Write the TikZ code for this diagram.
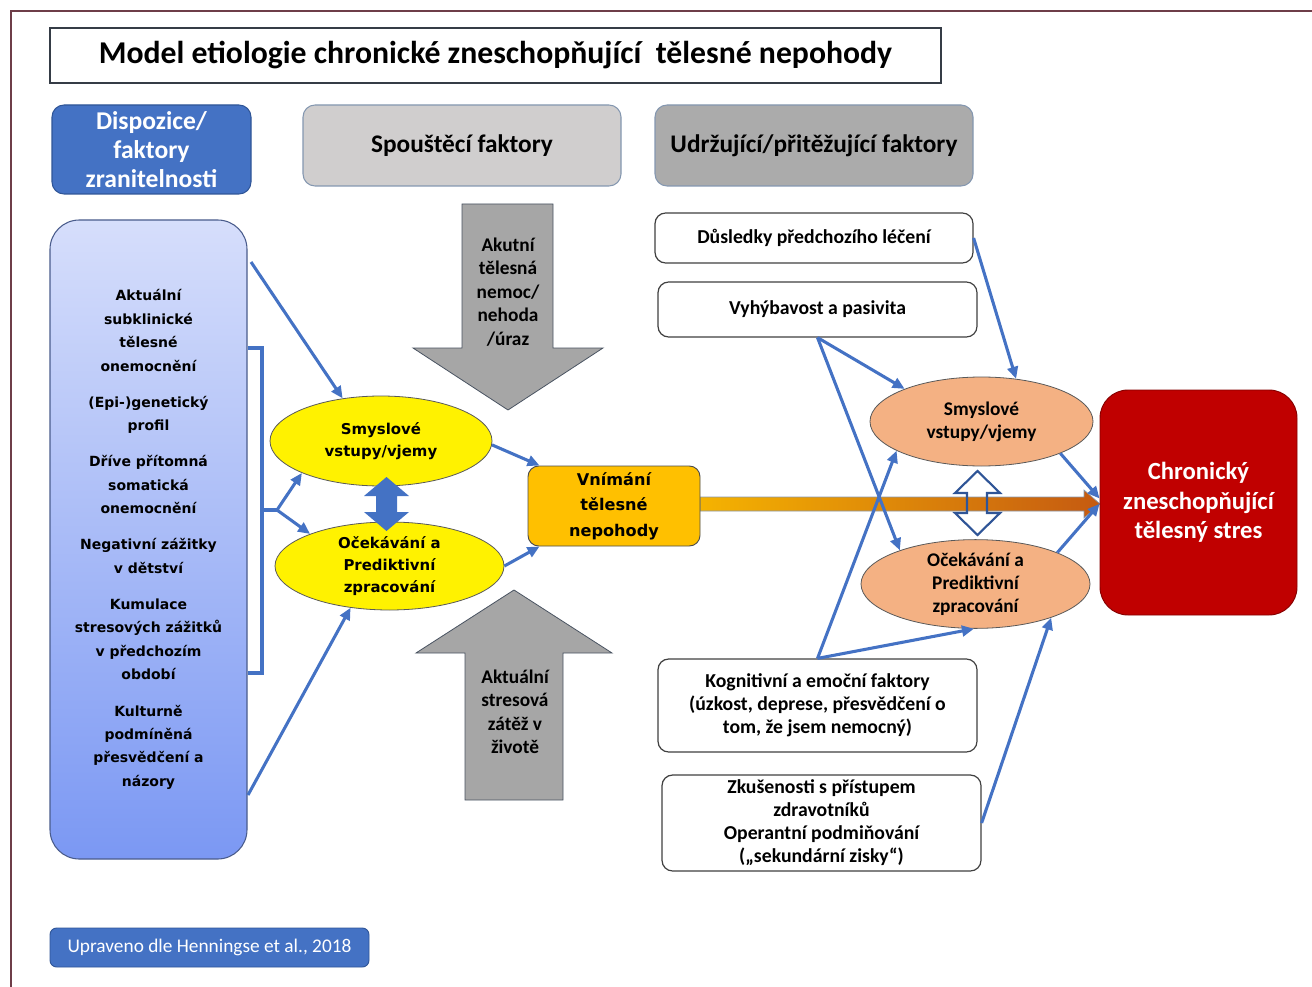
\documentclass[tikz,border=0pt]{standalone}
\usepackage{fontspec}
\setmainfont{Carlito}
\newfontfamily\dvs{DejaVu Sans}
\usetikzlibrary{arrows.meta,shapes.geometric,calc}
\definecolor{frame}{HTML}{6E3D48}
\definecolor{cblue}{HTML}{4472C4}
\definecolor{dblue}{HTML}{2F5597}
\definecolor{hdrb}{HTML}{8497B0}
\definecolor{lgray}{HTML}{D0CECE}
\definecolor{dgray}{HTML}{ABABAB}
\definecolor{agray}{HTML}{A6A6A6}
\definecolor{ltop}{HTML}{D6DEFB}
\definecolor{lbot}{HTML}{7B98F3}
\definecolor{lbord}{HTML}{4A5C8C}
\definecolor{corange}{HTML}{F4B183}
\definecolor{vnimc}{HTML}{FFC000}
\definecolor{chronc}{HTML}{C00000}
\definecolor{gradl}{HTML}{F5B301}
\definecolor{gradr}{HTML}{C55A11}
\begin{document}
\begin{tikzpicture}[x=0.75pt,y=-0.75pt,
  conn/.style={draw=cblue, line width=2.3pt, -{Triangle[length=9pt,width=8pt]}},
  hdr/.style={rectangle, rounded corners=9pt, draw=hdrb, line width=0.8pt, inner sep=0pt, align=center, font=\fontsize{19}{22}\selectfont\bfseries},
  wbox/.style={rectangle, rounded corners=8pt, draw=black!75, line width=0.9pt, fill=white, inner sep=0pt, align=center, font=\fontsize{14.8}{17.3}\selectfont\bfseries},
  yell/.style={ellipse, draw=black!65, line width=0.6pt, fill=yellow, inner sep=0pt, align=center, font=\dvs\bfseries\fontsize{11.2}{16.8}\selectfont},
  oell/.style={ellipse, draw=black!65, line width=0.6pt, fill=corange, inner sep=0pt, align=center, font=\fontsize{14.5}{17.3}\selectfont\bfseries},
  bigarrow/.style={fill=agray, draw=black!45!hdrb, line width=0.6pt},
  arrtext/.style={align=center, inner sep=0pt, font=\fontsize{14.5}{17.6}\selectfont\bfseries}
]
\useasboundingbox (0,0) rectangle (1312,987);
% frame
\draw[frame, line width=2.2pt] (11,987) -- (11,11) -- (1312,11);

% title and headers
\node[draw=black!60!hdrb, line width=0.8pt, fill=white, minimum width=668.25pt, minimum height=41.25pt, inner sep=0pt, font=\fontsize{23.8}{26}\selectfont\bfseries] (title) at (495.5,55.5) {\raisebox{-2.5pt}{Model etiologie chronické zneschopňující \ tělesné nepohody}};
\node[hdr, fill=cblue, draw=dblue, text=white, minimum width=149.25pt, minimum height=66.75pt, font=\fontsize{19.2}{22}\selectfont\bfseries] (disp) at (151.5,149.5) {Dispozice/\\faktory\\zranitelnosti};
\node[hdr, fill=lgray, minimum width=238.5pt, minimum height=60.75pt] (spous) at (462,145.5) {Spouštěcí faktory};
\node[hdr, fill=dgray, minimum width=238.5pt, minimum height=60.75pt] (udrz) at (814,145.5) {Udržující/přitěžující faktory};

% left box
\node[rectangle, rounded corners=22pt, draw=lbord, line width=0.8pt, top color=ltop, bottom color=lbot, minimum width=147.75pt, minimum height=479.25pt, inner sep=0pt, align=center, font=\dvs\bfseries\fontsize{10.5}{17.6}\selectfont] (leftbox) at (148.5,539.5)
{Aktuální\\subklinické\\tělesné\\onemocnění\\[9.5pt]
(Epi-)genetický\\profil\\[9.5pt]
Dříve přítomná\\somatická\\onemocnění\\[9.5pt]
Negativní zážitky\\v dětství\\[9.5pt]
Kumulace\\stresových zážitků\\v předchozím\\období\\[9.5pt]
Kulturně\\podmíněná\\přesvědčení a\\názory};

% big gray arrows
\draw[bigarrow] (462,204) -- (553,204) -- (553,348) -- (603,348) -- (508,410) -- (413,348) -- (462,348) -- cycle;
\node[arrtext] (akut) at (508,292) {Akutní\\tělesná\\nemoc/\\nehoda\\/úraz};
\draw[bigarrow] (465,800) -- (563,800) -- (563,653) -- (612,653) -- (514,590) -- (416,653) -- (465,653) -- cycle;
\node[arrtext] (aktu) at (515,712) {Aktuální\\stresová\\zátěž v\\životě};

% gradient arrow
\draw[left color=gradl, right color=gradr, draw=hdrb, line width=0.5pt] (700,497) -- (1084,497) -- (1084,490) -- (1100,504) -- (1084,518) -- (1084,511) -- (700,511) -- cycle;

% yellow ellipses and perception box
\node[yell, minimum width=166.5pt, minimum height=67.5pt] (ell1) at (381,441) {Smyslové\\vstupy/vjemy};
\node[yell, minimum width=171.75pt, minimum height=66pt] (ell2) at (389.5,566) {Očekávání a\\Prediktivní\\zpracování};
\node[rectangle, rounded corners=8pt, draw=black!70, line width=0.7pt, fill=vnimc, minimum width=129pt, minimum height=60pt, inner sep=0pt, align=center, font=\dvs\bfseries\fontsize{12.1}{19}\selectfont] (vnim) at (614,506) {Vnímání\\tělesné\\nepohody};

% blue filled double arrow
\fill[cblue] (386.5,477) -- (409,496) -- (397,496) -- (397,512) -- (409,512) -- (386.5,531) -- (364,512) -- (376,512) -- (376,496) -- (364,496) -- cycle;

% bracket
\coordinate (brm) at (262,510);
\coordinate (brj) at (277,510);
\draw[cblue, line width=2.3pt] (248,348) -- (262,348) -- (262,673) -- (248,673);
\draw[cblue, line width=2.3pt] (brm) -- (brj);
\draw[conn] (brj) -- (ell1.202);
\draw[conn] (brj) -- (ell2.158);
\coordinate (lbA) at (251,262);
\coordinate (lbB) at (248,795);
\draw[conn] (lbA) -- (ell1.132);
\draw[conn] (lbB) -- (ell2.227);
\draw[conn] (ell1.-2) -- ([xshift=9pt]vnim.north west);
\draw[conn] (ell2.east) -- ([xshift=9pt]vnim.south west);

% right side
\node[wbox, minimum width=238.5pt, minimum height=37.5pt] (dus) at (814,238) {Důsledky předchozího léčení};
\node[wbox, minimum width=239.25pt, minimum height=41.25pt] (vyh) at (817.5,309.5) {Vyhýbavost a pasivita};
\node[wbox, minimum width=239.25pt, minimum height=69.75pt] (kog) at (817.5,705.5) {Kognitivní a emoční faktory\\(úzkost, deprese, přesvědčení o\\tom, že jsem nemocný)};
\node[wbox, minimum width=239.25pt, minimum height=72pt] (zku) at (821.5,823) {Zkušenosti s přístupem\\zdravotníků\\Operantní podmiňování\\(„sekundární zisky“)};
\node[oell, minimum width=167.25pt, minimum height=66.75pt] (ell3) at (981.5,421.5) {Smyslové\\vstupy/vjemy};
\node[oell, minimum width=171.75pt, minimum height=66pt] (ell4) at (975.5,584) {Očekávání a\\Prediktivní\\zpracování};
\node[rectangle, rounded corners=21pt, draw=chronc!70!black, line width=0.7pt, fill=chronc, text=white, minimum width=147.75pt, minimum height=168.75pt, inner sep=0pt, align=center, font=\fontsize{18.5}{22.2}\selectfont\bfseries] (chron) at (1198.5,502.5) {Chronický\\zneschopňující\\tělesný stres};

\draw[conn] (dus.east) -- (ell3.51);
\draw[conn] (vyh.south) -- (ell3.157);
\draw[conn] (vyh.south) -- (ell4.156);
\draw[conn] (kog.north) -- (ell3.199);
\draw[conn] (kog.north) -- (ell4.268);
\draw[conn] (zku.east) -- (ell4.336);
\draw[conn] (ell3.338) -- ([yshift=3pt]chron.west);
\draw[conn] (ell4.21) -- ([yshift=-1pt]chron.west);

% outline double arrow
\draw[dblue, line width=1.6pt, line join=miter] (977.5,471) -- (1000,493) -- (987,493) -- (987,513) -- (1000,513) -- (977.5,535) -- (955,513) -- (967,513) -- (967,493) -- (955,493) -- cycle;

% footer
\node[rectangle, rounded corners=5pt, fill=cblue, draw=dblue, line width=0.7pt, text=white, minimum width=239.25pt, minimum height=29.25pt, inner sep=0pt, font=\fontsize{14.5}{16}\selectfont] (foot) at (209.5,947.5) {Upraveno dle Henningse et al., 2018};
\end{tikzpicture}
\end{document}
